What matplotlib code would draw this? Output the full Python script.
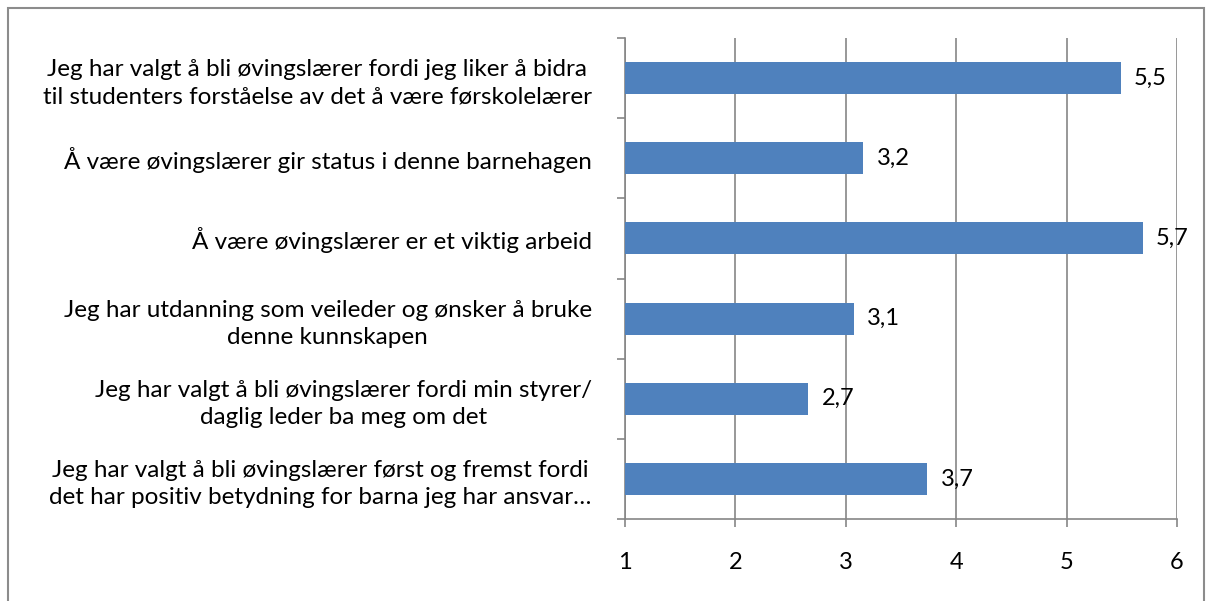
import numpy as np
import matplotlib.pyplot as plt
from matplotlib.patches import Rectangle

# Statements (top to bottom as shown)
labels = [
    "Jeg har valgt å bli øvingslærer fordi jeg liker å bidra\ntil studenters forståelse av det å være førskolelærer",
    "Å være øvingslærer gir status i denne barnehagen",
    "Å være øvingslærer er et viktig arbeid",
    "Jeg har utdanning som veileder og ønsker å bruke\ndenne kunnskapen",
    "Jeg har valgt å bli øvingslærer fordi min styrer/\ndaglig leder ba meg om det",
    "Jeg har valgt å bli øvingslærer først og fremst fordi\ndet har positiv betydning for barna jeg har ansvar…",
]
values = [5.49, 3.16, 5.69, 3.07, 2.66, 3.74]
xticks = [1, 2, 3, 4, 5, 6]

plt.rcParams['font.family'] = ['Lato', 'DejaVu Sans']
bar_color = '#4F81BD'
grid_color = '#868686'
fs = 17

fig = plt.figure(figsize=(12.11, 6.01), dpi=100)
ax = fig.add_axes([625 / 1211, 1 - 519 / 601, 552 / 1211, 481 / 601])

n = len(labels)
ypos = np.arange(n)[::-1]
base = 1
ax.barh(ypos, np.array(values) - base, left=base, height=0.4, color=bar_color, zorder=3)

# data labels with comma decimal
for y, v in zip(ypos, values):
    ax.text(v + 0.12, y, f"{v:.1f}".replace('.', ','), va='center', ha='left',
            fontsize=fs, color='black', zorder=4)

ax.set_xlim(1, 6)
ax.set_ylim(-0.5, n - 0.5)
ax.set_xticks(xticks)
ax.set_xticklabels([str(t) for t in xticks], fontsize=fs)
ax.set_yticks(ypos)
ax.set_yticklabels(labels, fontsize=17.5, ha='right', multialignment='center', linespacing=1.35)
ax.set_yticks(np.arange(-0.5, n, 1), minor=True)

ax.tick_params(axis='y', which='major', length=0, pad=24)
ax.tick_params(axis='y', which='minor', length=6, color=grid_color, width=1.2)
ax.tick_params(axis='x', length=6, color=grid_color, width=1.2, pad=18)

ax.grid(axis='x', color=grid_color, linewidth=1.2, zorder=0)
for s in ['top', 'right']:
    ax.spines[s].set_visible(False)
for s in ['left', 'bottom']:
    ax.spines[s].set_color(grid_color)
    ax.spines[s].set_linewidth(1.2)

# outer chart border
fig.patches.append(Rectangle((8 / 1211, -0.02), 1196 / 1211, 1 - 8 / 601 + 0.02,
                             transform=fig.transFigure, fill=False,
                             edgecolor='#8c8c8c', linewidth=1.5))

fig.savefig('out.png', dpi=100)
